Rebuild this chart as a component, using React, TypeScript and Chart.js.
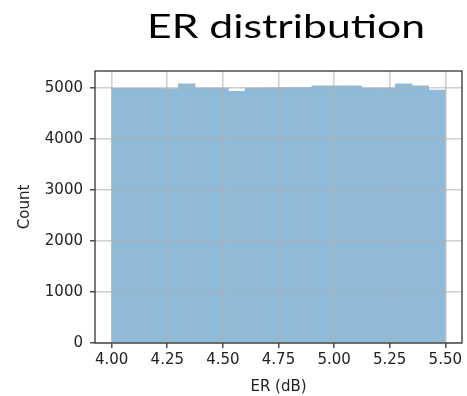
import React, { useEffect, useRef } from 'react';
import { Chart, registerables } from 'chart.js';

Chart.register(...registerables);

// Histogram of ER values: left edges of the 20 bins and their counts
const binStarts = [
  4.0, 4.075, 4.15, 4.225, 4.3, 4.375, 4.45, 4.525, 4.6, 4.675,
  4.75, 4.825, 4.9, 4.975, 5.05, 5.125, 5.2, 5.275, 5.35, 5.425,
];
const binWidth = 0.075;
const counts = [
  4993, 4993, 4995, 4990, 5080, 5000, 4998, 4935, 5000, 5002,
  5008, 5010, 5045, 5045, 5042, 5000, 4998, 5080, 5045, 4960,
];
const xTicks = [4.0, 4.25, 4.5, 4.75, 5.0, 5.25, 5.5];
const yTicks = [0, 1000, 2000, 3000, 4000, 5000];

const TITLE = 'ER distribution';
const X_LABEL = 'ER (dB)';
const Y_LABEL = 'Count';

const TEXT = '#222';
const SPINE = '#333';
const GRID = 'rgba(176,176,176,0.6)';
const BAR = '#8fbbd9';
const TICK_FONT = { family: '"DejaVu Sans", sans-serif', size: 15 };

const titlePlugin = {
  id: 'bigTitle',
  afterDraw(chart: any) {
    const ctx = chart.ctx;
    ctx.save();
    ctx.font = '33px Lato, sans-serif';
    ctx.fillStyle = '#000';
    ctx.textAlign = 'center';
    ctx.textBaseline = 'alphabetic';
    const w = ctx.measureText(TITLE).width;
    ctx.translate(286, 38);
    ctx.scale(278 / w, 1);
    ctx.fillText(TITLE, 0, 0);
    ctx.restore();
  },
};

// Box around the plotting area (all four spines)
const framePlugin = {
  id: 'frame',
  afterDraw(chart: any) {
    const { ctx, chartArea } = chart;
    ctx.save();
    ctx.strokeStyle = SPINE;
    ctx.lineWidth = 1.3;
    ctx.strokeRect(chartArea.left, chartArea.top, chartArea.right - chartArea.left, chartArea.bottom - chartArea.top);
    ctx.restore();
  },
};

export default function App() {
  const ref = useRef<HTMLCanvasElement>(null);

  useEffect(() => {
    if (!ref.current) return;
    const data = binStarts.map((s, i) => ({ x: s + binWidth / 2, y: counts[i] }));
    const chart = new Chart(ref.current, {
      type: 'bar',
      data: {
        datasets: [
          {
            data,
            backgroundColor: BAR,
            borderWidth: 0,
            barPercentage: 1,
            categoryPercentage: 1,
          },
        ],
      },
      options: {
        responsive: false,
        animation: false,
        layout: { padding: { left: 16, right: 5, top: 71, bottom: 0 } },
        plugins: { legend: { display: false }, tooltip: { enabled: false }, title: { display: false } },
        scales: {
          x: {
            type: 'linear',
            offset: false,
            min: 3.925,
            max: 5.575,
            afterBuildTicks: (scale: any) => {
              scale.ticks = xTicks.map((v) => ({ value: v }));
            },
            afterFit: (scale: any) => {
              scale.height = 53;
            },
            ticks: {
              color: TEXT,
              font: TICK_FONT,
              padding: 3,
              maxRotation: 0,
              autoSkip: false,
              callback: (v: any) => Number(v).toFixed(2),
            },
            grid: { z: 1, offset: false, color: GRID, lineWidth: 1.6, tickLength: 5, tickColor: SPINE, tickWidth: 1.3 },
            border: { display: false },
            title: { display: true, text: X_LABEL, color: TEXT, font: TICK_FONT, padding: 0 },
          },
          y: {
            min: 0,
            max: 5334,
            afterBuildTicks: (scale: any) => {
              scale.ticks = yTicks.map((v) => ({ value: v }));
            },
            afterFit: (scale: any) => {
              scale.width = 79;
            },
            ticks: { color: TEXT, font: TICK_FONT, padding: 7, autoSkip: false, callback: (v: any) => String(v) },
            grid: { z: 1, color: GRID, lineWidth: 1.6, tickLength: 5, tickColor: SPINE, tickWidth: 1.3 },
            border: { display: false },
            title: { display: true, text: Y_LABEL, color: TEXT, font: TICK_FONT, padding: 0 },
          },
        },
      },
      plugins: [titlePlugin, framePlugin],
    } as any);
    return () => chart.destroy();
  }, []);

  return (
    <div style={{ position: 'fixed', left: 0, top: 0, width: 467, height: 396, background: '#fff' }}>
      <canvas ref={ref} width={467} height={396} style={{ width: 467, height: 396, display: 'block' }} />
    </div>
  );
}
